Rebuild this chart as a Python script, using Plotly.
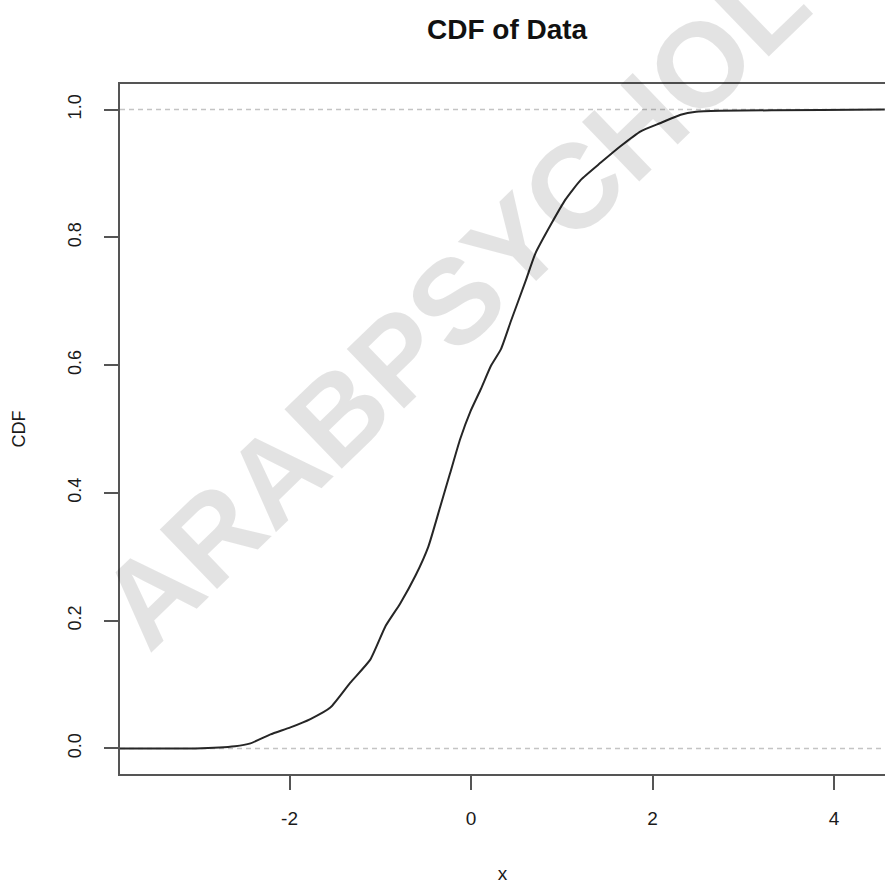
import plotly.graph_objects as go

# ECDF curve
x_values = [-3.87, -3.04, -2.60, -2.43, -2.21, -1.99, -1.77, -1.55, -1.33, -1.11,
            -0.94, -0.78, -0.61, -0.47, -0.34, -0.23, -0.12, -0.005, 0.11, 0.22,
            0.33, 0.44, 0.60, 0.71, 0.88, 1.04, 1.21, 1.43, 1.65, 1.87,
            2.09, 2.31, 2.48, 2.75, 3.86, 4.56]
cdf_values = [0.0, 0.0, 0.0035, 0.008, 0.022, 0.033, 0.046, 0.064, 0.103, 0.139,
              0.192, 0.227, 0.271, 0.316, 0.378, 0.431, 0.484, 0.528, 0.563, 0.599,
              0.625, 0.669, 0.731, 0.775, 0.820, 0.859, 0.890, 0.917, 0.943, 0.966,
              0.979, 0.992, 0.9966, 0.998, 0.9995, 1.0]

x_ticks = [-2, 0, 2, 4]
x_tick_labels = ["-2", "0", "2", "4"]
y_ticks = [0.0, 0.2, 0.4, 0.6, 0.8, 1.0]
y_tick_labels = ["0.0", "0.2", "0.4", "0.6", "0.8", "1.0"]
ref_levels = [0.0, 1.0]

FONT = "Liberation Sans, Arial, Helvetica, sans-serif"
AXC = "#555555"

fig = go.Figure()
fig.add_trace(go.Scatter(x=x_values, y=cdf_values, mode="lines",
                         line=dict(color="#262626", width=2, shape="spline", smoothing=0.5),
                         hoverinfo="skip", showlegend=False))

for lv in ref_levels:
    fig.add_hline(y=lv, line=dict(color="#c4c4c4", width=1.5, dash="5px,4px"), layer="below")

fig.add_annotation(text="ARABPSYCHOLOGY", xref="paper", yref="paper",
                   x=0.5607, y=0.818, xanchor="center", yanchor="middle",
                   textangle=-44, showarrow=False,
                   font=dict(family=FONT, size=120, color="rgba(0,0,0,0.11)", weight="bold"))

fig.update_layout(
    width=885, height=884,
    margin=dict(l=120, r=0, t=84, b=110, autoexpand=False),
    paper_bgcolor="white", plot_bgcolor="white",
    font=dict(family=FONT, color="#1a1a1a", size=18),
    title=dict(text="<b>CDF of Data</b>", x=0.506, xref="paper", xanchor="center",
               y=1 - 29 / 884, yanchor="middle", font=dict(size=28, color="#111111")),
    showlegend=False,
)
fig.update_xaxes(range=[-3.868, 4.562], tickvals=x_ticks, ticktext=x_tick_labels,
                 ticks="outside", ticklen=14, automargin=False,
                 tickwidth=2, tickcolor=AXC, showline=True, linecolor=AXC, linewidth=2,
                 mirror=True, showgrid=False, zeroline=False, ticklabelstandoff=12,
                 tickfont=dict(size=19), title=dict(text="x", font=dict(size=19), standoff=42))
fig.update_yaxes(range=[-0.04, 1.04], tickvals=y_ticks, ticktext=y_tick_labels,
                 ticks="outside", ticklen=14, tickwidth=2, tickcolor=AXC, tickangle=-90,
                 showline=True, linecolor=AXC, linewidth=2, showgrid=False, zeroline=False,
                 ticklabelstandoff=16, automargin=False,
                 tickfont=dict(size=18), title=dict(text="CDF", font=dict(size=18), standoff=34))

fig.write_html("out.html", config={"displayModeBar": False},
               post_script="document.body.style.margin='0';")
